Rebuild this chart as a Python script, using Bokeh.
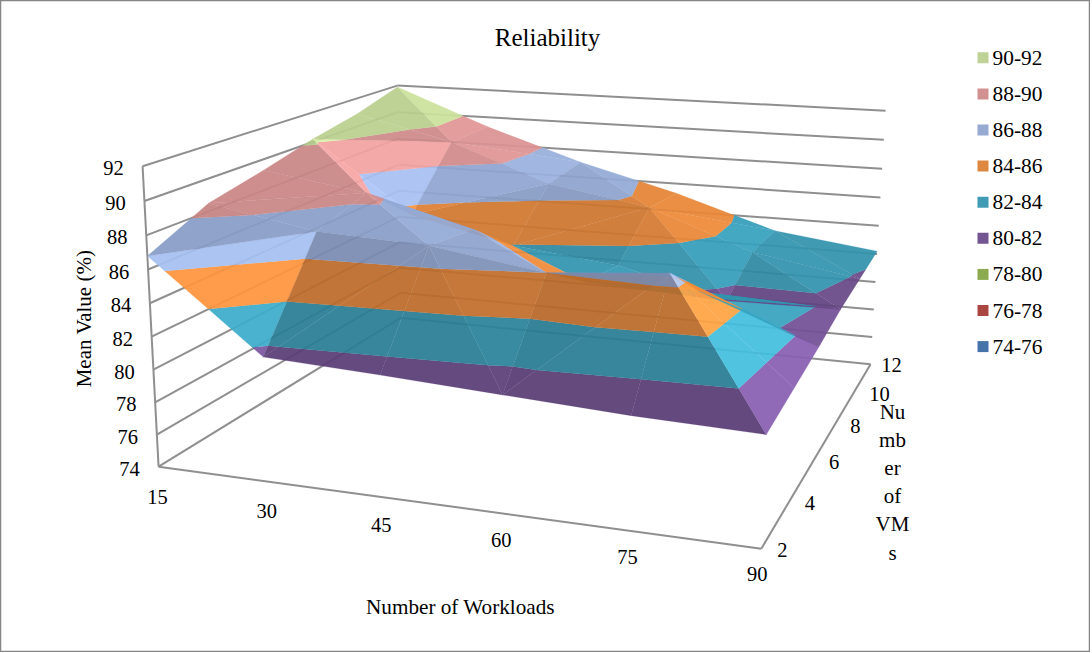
import numpy as np
from bokeh.plotting import figure
from bokeh.core.properties import value
from bokeh.embed import file_html
from bokeh.resources import INLINE

TITLE = "Reliability"
WORKLOADS = ["15", "30", "45", "60", "75", "90"]
VMS = ["2", "4", "6", "8", "10", "12"]
Z_TICKS = [74, 76, 78, 80, 82, 84, 86, 88, 90, 92]
BANDS = ["74-76", "76-78", "78-80", "80-82", "82-84", "84-86", "86-88", "88-90", "90-92"]
BAND_COLORS = ["#4673AA", "#AA4641", "#8CAA50", "#735591", "#409BB4", "#DE8741", "#96AAD2", "#D29191", "#BED296"]
VM_TITLE = ["Nu", "mb", "er", "of", "VM", "s"]

VM2 = [86.8, 81.5, 81.2, 80.85, 80.5, 80.3]
VM4 = [88.5, 87.3, 87.0, 86.0, 86.6, 80.7]
VM6 = [89.3, 88.3, 86.5, 83.8, 83.8, 81.1]
VM8 = [90.2, 85.5, 83.95, 83.2, 81.5, 81.6]
VM10 = [90.9, 89.3, 86.8, 85.65, 83.1, 81.9]
VM12 = [91.9, 89.3, 87.1, 85.3, 83.1, 82.2]
Z = np.array([VM2, VM4, VM6, VM8, VM10, VM12])
# cells whose diagonal runs against the usual alternation: (workload index, vm index)
FLIPPED = {(0, 0), (2, 1), (4, 2), (1, 3), (4, 3)}

# projection of the unit box (workload, vm, value) on the page
BOX = [(0,0,0,158,466),(1,0,0,761,548),(1,1,0,870,364),(0,0,1,142,166),(0,1,1,397,85),(1,1,1,885,110)]
A = []
for X,Y,W,u,v in BOX:
    A.append([X,Y,W,1,0,0,0,0,-u*X,-u*Y,-u*W,-u])
    A.append([0,0,0,0,X,Y,W,1,-v*X,-v*Y,-v*W,-v])
P = np.linalg.svd(np.array(A,float))[2][-1].reshape(3,4)

def proj(i, j, z):
    q = P @ np.array([i/5, j/5, (z-74)/18, 1.0])
    return q[0]/q[2], q[1]/q[2]

def clip(poly, lo, hi):
    def cut(pts, lim, keep_above):
        out = []
        for k in range(len(pts)):
            a, b = pts[k], pts[(k+1) % len(pts)]
            ina = a[2] >= lim if keep_above else a[2] <= lim
            inb = b[2] >= lim if keep_above else b[2] <= lim
            if ina: out.append(a)
            if ina != inb:
                t = (lim-a[2])/(b[2]-a[2])
                out.append(tuple(a[m]+t*(b[m]-a[m]) for m in range(3)))
        return out
    pts = cut(poly, lo, True)
    if pts: pts = cut(pts, hi, False)
    return pts

def shade(tri):
    a,b,c = [np.array([p[0], p[1]*0.8, p[2]*0.12]) for p in tri]
    n = np.cross(b-a, c-a)
    if n[2] < 0: n = -n
    n = n/np.linalg.norm(n)
    nx, ny = n[0], n[1]
    return (1 + 0.6*max(0, nx-0.15) - 0.21*max(0, -ny)*max(0, 1-2*max(nx, 0))
            - 0.3*max(0, -nx))

ALPHA = 0.93
def tint(hexc, f):
    rgb = [int(hexc[k:k+2],16) for k in (1,3,5)]
    out = [min(255,max(0,(c*f-(1-ALPHA)*255)/ALPHA)) for c in rgb]
    return "#%02x%02x%02x" % tuple(int(c) for c in out)

xs, ys, cols = [], [], []
for j in range(4,-1,-1):
    for i in range(5):
        q = [(i,j,Z[j,i]),(i+1,j,Z[j,i+1]),(i+1,j+1,Z[j+1,i+1]),(i,j+1,Z[j+1,i])]
        main = ((i+j) % 2 == 1) != ((i,j) in FLIPPED)
        if main:
            tris = [[q[0],q[1],q[2]],[q[0],q[2],q[3]]]
        else:
            tris = [[q[0],q[1],q[3]],[q[1],q[2],q[3]]]
        for tri in tris:
            f = shade(tri)
            for b in range(len(BANDS)):
                pts = clip(tri, Z_TICKS[b], Z_TICKS[b+1])
                if len(pts) >= 3:
                    pr = [proj(*p) for p in pts]
                    xs.append([p[0] for p in pr]); ys.append([p[1] for p in pr])
                    cols.append(tint(BAND_COLORS[b], f))

p = figure(width=1090, height=652, x_range=(0,1090), y_range=(652,0), output_backend="svg",
           toolbar_location=None, min_border=0, x_axis_type=None, y_axis_type=None,
           styles={"position":"absolute","left":"0px","top":"0px"})
p.grid.visible = False
p.outline_line_color = "#868686"
p.outline_line_width = 1.5
GREY = "#8f8f8f"
def seg(a, b, w=2):
    pa, pb = proj(*a), proj(*b)
    p.line([pa[0],pb[0]],[pa[1],pb[1]],line_color=GREY,line_width=w)
for z in Z_TICKS:
    seg((0,0,z),(0,5,z)); seg((0,5,z),(5,5,z))
seg((0,0,74),(0,0,92)); seg((0,0,74),(5,0,74)); seg((5,0,74),(5,5,74))

p.patches(xs, ys, fill_color=cols, fill_alpha=ALPHA, line_color=cols, line_alpha=0.35, line_width=0.5)

F = value("Liberation Serif")
def txt(x,y,t,size="20.5px",align="center",angle=0):
    p.text([x],[y],text=[t],text_font=F,text_font_size=size,text_align=align,text_baseline="middle",
           text_color="#000000",angle=angle)
txt(547,37,TITLE,"25px")
for z,t in zip(Z_TICKS,Z_TICKS):
    u,v = proj(0,0,z); txt(u-29,v+2,str(t))
for i,t in enumerate(WORKLOADS):
    u,v = proj(i,0,74); txt(u-(4 if i==5 else 1),v+30-i,t)
for j,t in enumerate(VMS):
    u,v = proj(5,j,74); txt(u+(26 if j==4 else 21),v+1,t)
txt(460,606,"Number of Workloads","21.2px")
txt(83,318,"Mean Value (%)","21px",angle=np.pi/2)
for k,t in enumerate(VM_TITLE):
    txt(892,411+k*28.2,t,"21px")
for k,(b,c) in enumerate(zip(BANDS[::-1],BAND_COLORS[::-1])):
    y = 57.3+k*36.1
    p.rect([982.5],[y],width=11,height=11,fill_color=c,line_color=None)
    txt(992,y,b,"21.4px","left")

open("out.html","w").write(file_html(p, INLINE))
